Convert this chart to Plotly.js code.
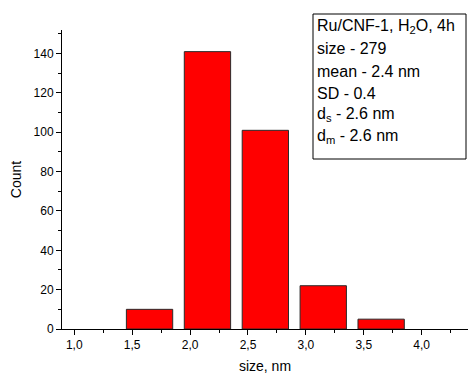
<!DOCTYPE html>
<html>
<head>
<meta charset="utf-8">
<script src="https://cdn.plot.ly/plotly-3.0.1.min.js"></script>
<style>html,body{margin:0;padding:0;background:#fff;}#chart{width:469px;height:376px;}</style>
</head>
<body>
<div id="chart"></div>
<script>
const binCenters = [1.65, 2.15, 2.65, 3.15, 3.65];
const counts = [10, 141, 101, 22, 5];
const barWidth = 0.4;
const xTickVals = [1.0, 1.5, 2.0, 2.5, 3.0, 3.5, 4.0];
const yTickVals = [0, 20, 40, 60, 80, 100, 120, 140];
const infoLines = [
  "Ru/CNF-1, H<sub>2</sub>O, 4h",
  "size - 279",
  "mean - 2.4 nm",
  "SD - 0.4",
  "d<sub>s</sub> - 2.6 nm",
  "d<sub>m</sub> - 2.6 nm"
];

const trace = {
  type: 'bar',
  x: binCenters,
  y: counts,
  width: barWidth,
  marker: {color: '#FF0000', line: {color: '#2a2a2a', width: 1}},
  hoverinfo: 'x+y'
};

const font = {family: 'Liberation Sans, Arial, sans-serif', color: '#000'};

// plot area geometry in pixels (for placing the info box)
const M = {l: 62, r: 1, t: 30, b: 47};
const W = 469, H = 376;
const pw = W - M.l - M.r, ph = H - M.t - M.b;
const px = v => (v - M.l) / pw;
const py = v => (H - M.b - v) / ph;

const lineCenters = [26, 49, 71, 93, 114, 136];
const annotations = infoLines.map((t, i) => ({
  xref: 'paper', yref: 'paper',
  x: px(315), y: py(lineCenters[i]),
  xanchor: 'left', yanchor: 'middle',
  text: t, align: 'left', showarrow: false,
  font: Object.assign({size: 16}, font)
}));

const layout = {
  width: W, height: H,
  margin: M,
  paper_bgcolor: '#fff', plot_bgcolor: '#fff',
  separators: ', ',
  showlegend: false,
  font: Object.assign({size: 12}, font),
  xaxis: {
    range: [0.894, 4.40],
    tickvals: xTickVals,
    tickformat: '.1f',
    ticks: 'outside', ticklen: 5, tickwidth: 1, tickcolor: '#000',
    minor: {dtick: 0.25, tick0: 1.0, ticks: 'outside', ticklen: 3, tickcolor: '#000', showgrid: false},
    showline: true, linecolor: '#000', linewidth: 1,
    showgrid: false, zeroline: false,
    tickfont: Object.assign({size: 12}, font),
    title: {text: 'size, nm', font: Object.assign({size: 14}, font), standoff: 9}
  },
  yaxis: {
    range: [0, 152],
    tickvals: yTickVals,
    ticks: 'outside', ticklen: 5, tickwidth: 1, tickcolor: '#000',
    minor: {dtick: 10, tick0: 0, ticks: 'outside', ticklen: 3, tickcolor: '#000', showgrid: false},
    showline: true, linecolor: '#000', linewidth: 1,
    showgrid: false, zeroline: false,
    tickfont: Object.assign({size: 12}, font),
    title: {text: 'Count', font: Object.assign({size: 14}, font), standoff: 8}
  },
  shapes: [{
    type: 'rect', xref: 'paper', yref: 'paper',
    x0: px(313), x1: px(466), y0: py(159), y1: py(14),
    line: {color: '#000', width: 1}, fillcolor: '#fff', layer: 'above'
  }],
  annotations: annotations
};

Plotly.newPlot('chart', [trace], layout, {displayModeBar: false, staticPlot: true});
</script>
</body>
</html>
